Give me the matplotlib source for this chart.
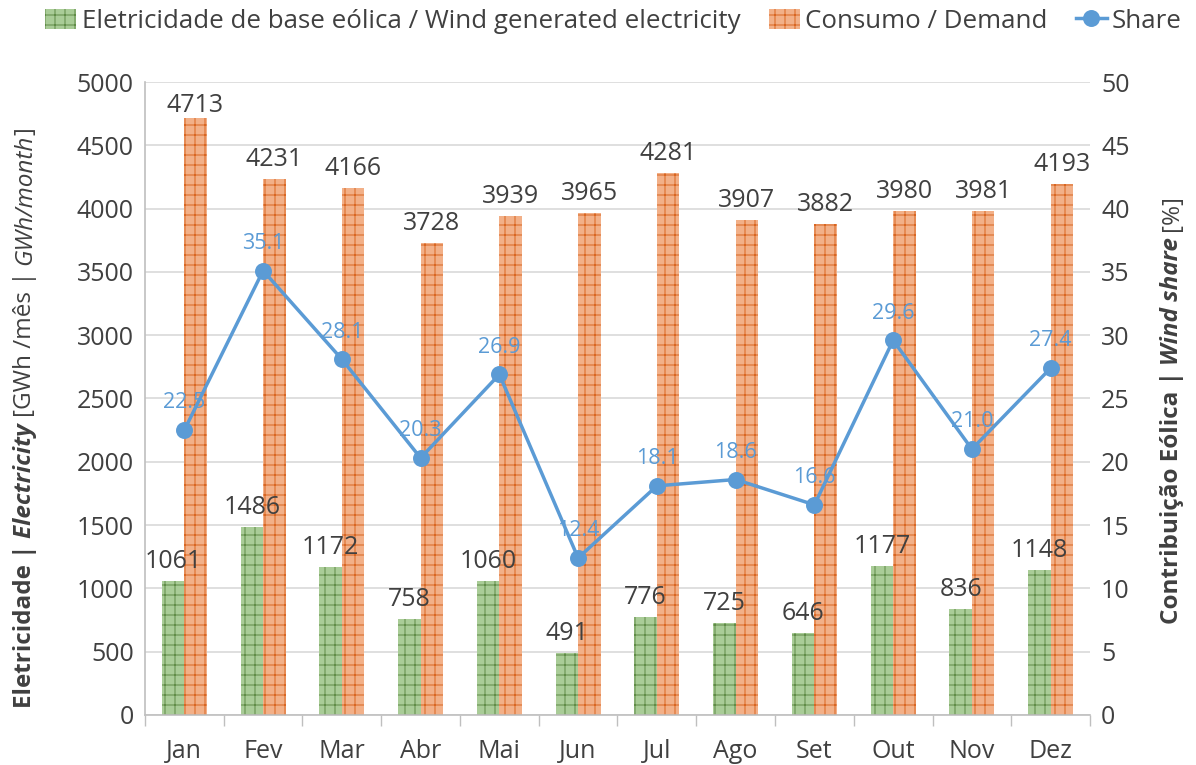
import matplotlib
matplotlib.use("Agg")
import matplotlib.pyplot as plt
import numpy as np
from matplotlib.lines import Line2D
from matplotlib.patches import Patch
from matplotlib.offsetbox import TextArea, VPacker, AnchoredOffsetbox

months = ["Jan", "Fev", "Mar", "Abr", "Mai", "Jun", "Jul", "Ago", "Set", "Out", "Nov", "Dez"]
wind = [1061, 1486, 1172, 758, 1060, 491, 776, 725, 646, 1177, 836, 1148]
demand = [4713, 4231, 4166, 3728, 3939, 3965, 4281, 3907, 3882, 3980, 3981, 4193]
share = [22.5, 35.1, 28.1, 20.3, 26.9, 12.4, 18.1, 18.6, 16.6, 29.6, 21.0, 27.4]

DPI = 120
S = 100.0 / DPI  # convert "100-dpi points" to points at this dpi

plt.rcParams['font.family'] = ['Open Sans', 'DejaVu Sans']
plt.rcParams['hatch.linewidth'] = 0.7 * S

txt = '#404040'
green_face = '#a9cc97'
green_edge = '#5e8a45'
orange_face = '#f2b088'
orange_edge = '#d9641f'
blue = '#5b9bd5'

fig = plt.figure(figsize=(1196 / DPI, 765 / DPI), dpi=DPI)
ax = fig.add_axes([0.1212, 0.0654, 0.7902, 0.8274])
ax2 = ax.twinx()

x = np.arange(len(months))
w = 0.285
ax.bar(x - w/2, wind, w, color=green_face, edgecolor=green_edge, hatch='++', linewidth=0, zorder=2)
ax.bar(x + w/2, demand, w, color=orange_face, edgecolor=orange_edge, hatch='++', linewidth=0, zorder=2)

for xi, v in zip(x, wind):
    ax.annotate(str(v), (xi - w/2, v), xytext=(0, 5 * S), textcoords='offset points',
                ha='center', va='bottom', fontsize=18 * S, color=txt)
for xi, v in zip(x, demand):
    off = 5 * S if v < 4600 else 0
    ax.annotate(str(v), (xi + w/2, v), xytext=(0, off), textcoords='offset points',
                ha='center', va='bottom', fontsize=18 * S, color=txt)

ax.set_xlim(-0.5, 11.5)
ax.set_ylim(0, 5000)
ax.set_yticks(np.arange(0, 5001, 500))
ax.yaxis.grid(True, color='#d9d9d9', linewidth=1.2 * S, zorder=0)
ax.set_axisbelow(True)
ax.set_xticks(x)
ax.set_xticklabels(months)
ax.set_xticks(np.arange(-0.5, 12, 1), minor=True)
ax.tick_params(axis='x', which='major', length=0, pad=17 * S, labelsize=18 * S, labelcolor=txt)
ax.tick_params(axis='x', which='minor', length=8 * S, color='#bfbfbf', width=1 * S)
ax.tick_params(axis='y', length=0, labelsize=18 * S, labelcolor=txt, pad=8 * S)

for s in ['top', 'right']:
    ax.spines[s].set_visible(False)
    ax2.spines[s].set_visible(False)
ax2.spines['left'].set_visible(False)
ax2.spines['bottom'].set_visible(False)
ax.spines['left'].set_color('#bfbfbf')
ax.spines['bottom'].set_color('#bfbfbf')
ax.spines['left'].set_linewidth(1.2 * S)
ax.spines['bottom'].set_linewidth(1.2 * S)

ax2.plot(x, share, color=blue, linewidth=2.5 * S, marker='o', markersize=11 * S, zorder=3)
for xi, v in zip(x, share):
    ax2.annotate(f"{v:.1f}", (xi, v), xytext=(0, 12 * S), textcoords='offset points',
                 ha='center', va='bottom', fontsize=15.5 * S, color=blue)
ax2.set_ylim(0, 50)
ax2.set_yticks(np.arange(0, 51, 5))
ax2.tick_params(axis='y', length=0, labelsize=18 * S, labelcolor=txt, pad=8 * S)

parts_left = [("Eletricidade | ", 'bold', 'normal'), ("Electricity ", 'bold', 'italic'),
              ("[GWh /mês | ", 'normal', 'normal'), ("GWh/month", 'normal', 'italic'), ("]", 'normal', 'normal')]
boxes = [TextArea(t, textprops=dict(fontsize=17.5 * S, color=txt, fontweight=fw, fontstyle=fs, rotation=90))
         for t, fw, fs in parts_left]
vp = VPacker(children=boxes[::-1], align='center', pad=0, sep=0)
ab = AnchoredOffsetbox(loc='center', child=vp, frameon=False, bbox_to_anchor=(0.021, 0.465),
                       bbox_transform=fig.transFigure, pad=0, borderpad=0)
fig.add_artist(ab)

parts_right = [("Contribuição Eólica | ", 'bold', 'normal'), ("Wind share ", 'bold', 'italic'),
               ("[%]", 'normal', 'normal')]
boxes_r = [TextArea(t, textprops=dict(fontsize=17.5 * S, color=txt, fontweight=fw, fontstyle=fs, rotation=90))
           for t, fw, fs in parts_right]
vp_r = VPacker(children=boxes_r[::-1], align='center', pad=0, sep=0)
ab_r = AnchoredOffsetbox(loc='center', child=vp_r, frameon=False, bbox_to_anchor=(0.980, 0.465),
                         bbox_transform=fig.transFigure, pad=0, borderpad=0)
fig.add_artist(ab_r)

handles = [Patch(facecolor=green_face, edgecolor=green_edge, hatch='++', linewidth=0),
           Patch(facecolor=orange_face, edgecolor=orange_edge, hatch='++', linewidth=0),
           Line2D([0], [0], color=blue, linewidth=2.5 * S, marker='o', markersize=11 * S)]
labels = ["Eletricidade de base eólica / Wind generated electricity", "Consumo / Demand", "Share"]
fig.legend(handles, labels, loc='center', bbox_to_anchor=(0.513, 0.972), ncol=3, frameon=False,
           fontsize=18.6 * S, labelcolor=txt, handlelength=1.2, handleheight=0.8, handletextpad=0.2,
           columnspacing=1.1)

fig.savefig("out.png", dpi=DPI)
